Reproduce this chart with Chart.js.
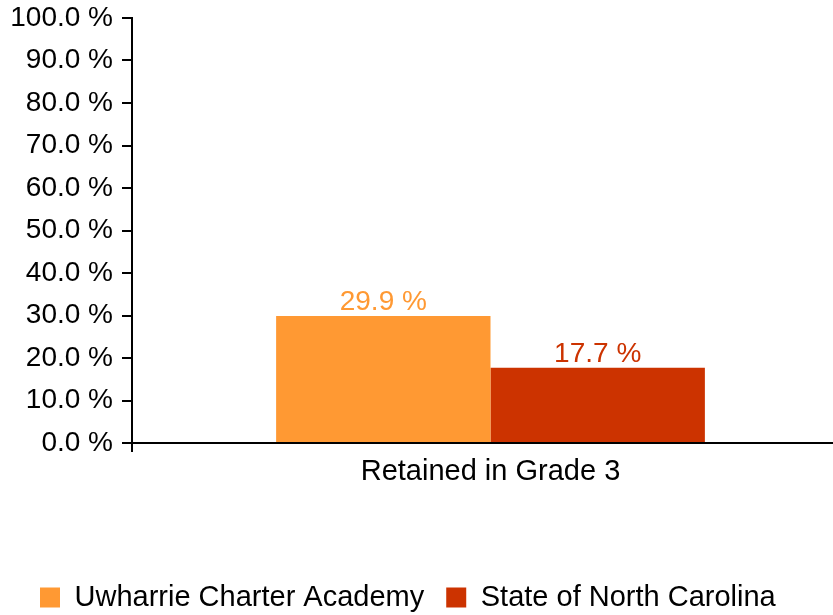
<!DOCTYPE html>
<html>
<head>
<meta charset="utf-8">
<script src="https://cdn.jsdelivr.net/npm/chart.js@4/dist/chart.umd.min.js"></script>
<style>
  html, body { margin: 0; padding: 0; background: #fff; overflow: hidden; }
  #wrap { width: 849px; height: 622px; }
</style>
</head>
<body>
<div id="wrap"><canvas id="chart" width="849" height="622"></canvas></div>
<script>
const categories = ["Retained in Grade 3"];
const seriesNames = ["Uwharrie Charter Academy", "State of North Carolina"];
const schoolValues = [29.9];
const stateValues = [17.7];
const seriesColors = ["#FF9933", "#CC3300"];
const yTicks = [0, 10, 20, 30, 40, 50, 60, 70, 80, 90, 100];

const FONT = "'Liberation Sans', Arial, sans-serif";

// draws the value above each bar, in the bar colour
const barValueLabels = {
  id: "barValueLabels",
  afterDatasetsDraw(chart) {
    const ctx = chart.ctx;
    ctx.save();
    ctx.font = "28px " + FONT;
    ctx.textAlign = "center";
    ctx.textBaseline = "alphabetic";
    chart.data.datasets.forEach((ds, i) => {
      chart.getDatasetMeta(i).data.forEach((bar, j) => {
        ctx.fillStyle = ds.backgroundColor;
        ctx.fillText(ds.data[j].toFixed(1) + " %", bar.x, bar.y - 6);
      });
    });
    ctx.restore();
  }
};

// nudge the legend right so it starts under the tick labels
const legendShift = {
  id: "legendShift",
  afterLayout(chart) {
    if (!chart.legend) return;
    chart.legend.left += 18;
    chart.legend.right += 18;
  }
};

new Chart(document.getElementById("chart"), {
  type: "bar",
  data: {
    labels: categories,
    datasets: [
      { label: seriesNames[0], data: schoolValues, backgroundColor: seriesColors[0] },
      { label: seriesNames[1], data: stateValues, backgroundColor: seriesColors[1] }
    ]
  },
  options: {
    responsive: false,
    animation: false,
    events: [],
    layout: { padding: { left: 0, top: 18, right: 0, bottom: 0 } },
    categoryPercentage: 0.598,
    barPercentage: 1,
    plugins: {
      tooltip: { enabled: false },
      legend: {
        position: "bottom",
        align: "start",
        labels: {
          boxWidth: 20,
          boxHeight: 20,
          padding: 22,
          color: "#000",
          font: { family: FONT, size: 29 }
        }
      }
    },
    scales: {
      x: {
        grid: { drawOnChartArea: false, drawTicks: true, tickLength: 9, color: "#000", lineWidth: 2 },
        border: { display: true, color: "#000", width: 2 },
        ticks: { color: "#000", padding: 3, font: { family: FONT, size: 29 } },
        afterFit(s) {
          const lg = s.chart.legend;
          s.height = s.chart.height - (lg ? lg.height : 73) - 443;
        }
      },
      y: {
        min: 0,
        max: 100,
        afterBuildTicks(s) {
          s.ticks = yTicks.map((v) => ({ value: v }));
        },
        grid: { drawOnChartArea: false, drawTicks: true, tickLength: 10, color: "#000", lineWidth: 2 },
        border: { display: true, color: "#000", width: 2 },
        ticks: {
          color: "#000",
          padding: 9,
          font: { family: FONT, size: 28 },
          callback: (v) => v.toFixed(1) + " %"
        },
        afterFit(s) {
          s.width = 132;
          s.paddingTop = 0;
          s.paddingBottom = 0;
        }
      }
    }
  },
  plugins: [barValueLabels, legendShift]
});
</script>
</body>
</html>
